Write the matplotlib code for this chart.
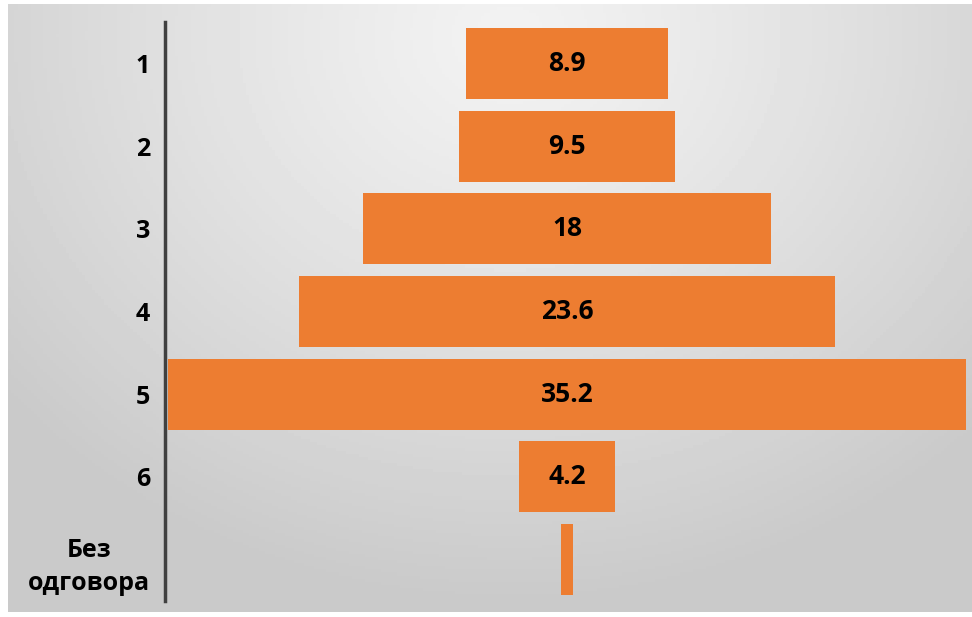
import numpy as np
import matplotlib
matplotlib.use("Agg")
from matplotlib import pyplot as plt

# funnel data
categories = ["1", "2", "3", "4", "5", "6", "Без\nодговора"]
values = [8.9, 9.5, 18, 23.6, 35.2, 4.2, 0.5]
value_labels = ["8.9", "9.5", "18", "23.6", "35.2", "4.2", ""]

orange = "#ED7D31"
W, H = 972, 617

plt.rcParams['font.family'] = ['Open Sans', 'DejaVu Sans']
plt.rcParams['font.weight'] = 'bold'
plt.rcParams['ytick.labelsize'] = 18

fig = plt.figure(figsize=(W / 100, H / 100), dpi=100)
fig.patch.set_facecolor("white")

# gray gradient panel behind the chart
bg = fig.add_axes([8 / W, (H - 612) / H, (W - 8) / W, (612 - 4) / H], zorder=0)
xx, yy = np.meshgrid(np.linspace(0, 1, 300), np.linspace(0, 1, 200))
d = np.sqrt(((xx - 0.52) * 1.1) ** 2 + ((yy - 0.05) * 0.8) ** 2)
shade = 0.95 - 0.16 * np.clip(d / 0.75, 0, 1) ** 1.2
bg.imshow(shade, cmap="gray", vmin=0, vmax=1, aspect="auto", extent=(0, 1, 1, 0))
bg.axis("off")

# funnel axes
ax = fig.add_axes([168 / W, (H - 601) / H, 798 / W, 579 / H], zorder=1)
ax.patch.set_alpha(0)
y = np.arange(len(categories))
ax.barh(y, values, left=[-v / 2 for v in values], height=0.86, color=orange)
for yi, v, lab in zip(y, values, value_labels):
    ax.text(0, yi, lab, ha="center", va="center", fontsize=19, color="black")

ax.set_xlim(-17.6, 17.6)
ax.set_ylim(6.5, -0.5)
ax.set_xticks([])
ax.set_yticks(y, categories)
ax.tick_params(axis="y", length=0, pad=11)
for s in ["top", "right", "bottom"]:
    ax.spines[s].set_visible(False)
ax.spines["left"].set_position(("outward", 2))
ax.spines["left"].set_color("#404040")
ax.spines["left"].set_linewidth(2.5)

# center the two-line label
fig.canvas.draw()
for t in ax.get_yticklabels():
    t.set_multialignment("center")
    t.set_linespacing(1.45)

fig.savefig("out.png", dpi=100)
